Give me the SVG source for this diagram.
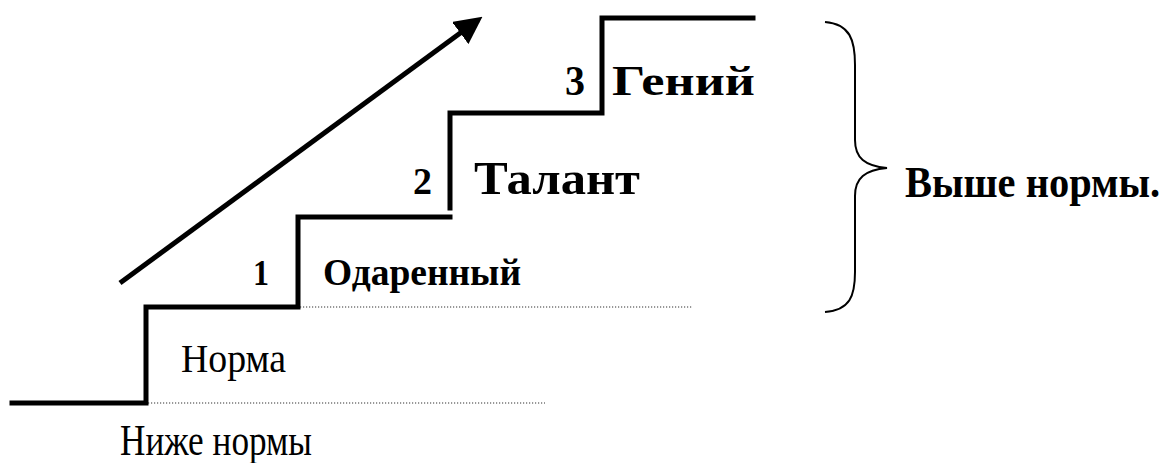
<svg xmlns="http://www.w3.org/2000/svg" width="1172" height="463" viewBox="0 0 1172 463">
<style>
.stair{fill:none;stroke:#000;stroke-width:5;stroke-linecap:square}
.dot{fill:none;stroke:#333;stroke-width:1.2;stroke-dasharray:1.2 1.8}
.b{font-family:"Liberation Serif","Times New Roman",serif;font-weight:bold;fill:#000}
.r{font-family:"Liberation Serif","Times New Roman",serif;fill:#000}
</style>
<defs>
<marker id="ah" viewBox="0 0 10 10" refX="8" refY="5" markerWidth="5.5" markerHeight="5.5" orient="auto" markerUnits="strokeWidth">
<path d="M0,0 L10,5 L0,10 Z" fill="#000"/>
</marker>
</defs>
<rect width="1172" height="463" fill="#fff"/>
<g id="connectors">
<line x1="120" y1="283" x2="478" y2="20" stroke="#000" stroke-width="5" marker-end="url(#ah)"/>
<path class="dot" d="M148 403 H545"/>
<path class="dot" d="M300 307 H693"/>
</g>
<g id="stairs">
<path class="stair" d="M12 403 H146 V307 H298 V217 H450"/>
<path class="stair" d="M450 208 V113 H602 V18 H753"/>
</g>
<g id="brace">
<path d="M825 22 C850 24 855 40 855 65 V140 C855 158 865 166 887 168 C865 170 855 178 855 196 V272 C855 296 850 310 825 312" fill="none" stroke="#000" stroke-width="2"/>
</g>
<g id="n-below"><text class="r" x="120" y="455" font-size="44" textLength="192" lengthAdjust="spacingAndGlyphs">Ниже нормы</text></g>
<g id="n-norm"><text class="r" x="181" y="372" font-size="41" textLength="105" lengthAdjust="spacingAndGlyphs">Норма</text></g>
<g id="n-1"><text class="b" x="253" y="285" font-size="36" textLength="16" lengthAdjust="spacingAndGlyphs">1</text><text class="b" x="323" y="285" font-size="37" textLength="198" lengthAdjust="spacingAndGlyphs">Одаренный</text></g>
<g id="n-2"><text class="b" x="413" y="194" font-size="38" textLength="19" lengthAdjust="spacingAndGlyphs">2</text><text class="b" x="474" y="194" font-size="46" textLength="166" lengthAdjust="spacingAndGlyphs">Талант</text></g>
<g id="n-3"><text class="b" x="565" y="95" font-size="42" textLength="20" lengthAdjust="spacingAndGlyphs">3</text><text class="b" x="612" y="95" font-size="43" textLength="143" lengthAdjust="spacingAndGlyphs">Гений</text></g>
<g id="n-above" transform="translate(905,197) scale(0.88,1)"><text class="b" x="0" y="0" font-size="45" textLength="290" lengthAdjust="spacingAndGlyphs">Выше нормы.</text></g>
</svg>
